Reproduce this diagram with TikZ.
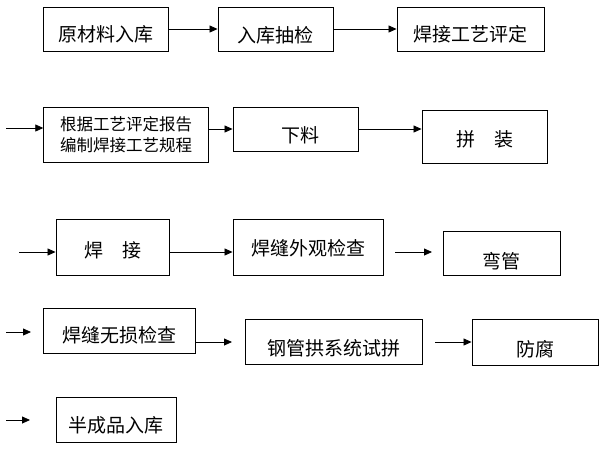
\documentclass[tikz,border=0pt]{standalone}
\usepackage{fontspec}
\setmainfont{Noto Sans CJK SC}
\usepackage{tikz}
\usetikzlibrary{arrows.meta,positioning}

\tikzset{
    box/.style={
        draw,
        line width=0.9pt,
        inner sep=1pt,
        font=\fontsize{19}{22}\selectfont
    },
    drop/.style={
        text height=#1,
        text depth=2pt
    },
    flow/.style={
        -{Triangle[length=8pt,width=7pt]},
        line width=0.8pt
    }
}

\begin{document}
\begin{tikzpicture}[x=1pt,y=-1pt]
                \useasboundingbox (0,0) rectangle (600,450);

                \node[
                    box,
                    minimum width=125pt,
                    minimum height=44pt,
                    drop=26.4pt
                    ] (rawin) at (106,29) {原材料入库};

                \node[
                    box,
                    minimum width=115pt,
                    minimum height=44pt,
                    drop=28.4pt
                    ] (sample) at (275.5,29) {入库抽检};

                \node[
                    box,
                    minimum width=147pt,
                    minimum height=44pt,
                    drop=26.4pt
                    ] (procq) at (470.5,29) {焊接工艺评定};

                \node[
                    box,
                    minimum width=164.5pt,
                    minimum height=55pt,
                    align=center,
                    font=\fontsize{16.5}{21}\selectfont
                    ] (wps) at (126,134.5) {根据工艺评定报告\\编制焊接工艺规程};

                \node[
                    box,
                    minimum width=125pt,
                    minimum height=44pt,
                    drop=28.4pt
                    ] (cutting) at (295.5,129) {\hspace{10pt}下料};

                \node[
                    box,
                    minimum width=125pt,
                    minimum height=53pt,
                    drop=21.4pt
                    ] (assembly) at (484.5,136.5) {拼\hspace{1em}装};

                \node[
                    box,
                    minimum width=113pt,
                    minimum height=56pt,
                    drop=22.4pt
                    ] (welding) at (112.5,247) {焊\hspace{1em}接};

                \node[
                    box,
                    minimum width=150pt,
                    minimum height=56pt,
                    drop=19.4pt
                    ] (visual) at (308,247) {焊缝外观检查};

                \node[
                    box,
                    minimum width=117pt,
                    minimum height=44pt,
                    drop=32.4pt
                    ] (bending) at (501.5,253) {弯管};

                \node[
                    box,
                    minimum width=152pt,
                    minimum height=45pt,
                    drop=25.4pt
                    ] (ndt) at (119,330.5) {焊缝无损检查};

                \node[
                    box,
                    minimum width=177pt,
                    minimum height=45pt,
                    drop=30.4pt
                    ] (trial) at (333.5,341.5) {钢管拱系统试拼};

                \node[
                    box,
                    minimum width=126pt,
                    minimum height=46pt,
                    drop=31.4pt
                    ] (coating) at (535,342) {防腐};

                \node[
                    box,
                    minimum width=120pt,
                    minimum height=45pt,
                    drop=28.4pt
                    ] (store) at (116,419.5) {半成品入库};

                \coordinate (in2) at (6,128);
                \coordinate (in3) at (19,252);
                \coordinate (in4) at (6,332);
                \coordinate (in4end) at (31,332);
                \coordinate (in5) at (6,420);
                \coordinate (in5end) at (30,420);
                \coordinate (gap3) at (395,252);
                \coordinate (gap3end) at (432,252);
                \coordinate (gap4) at (232,342);
                \coordinate (gap4b) at (435,342);

                \draw[flow] (rawin) to (sample);
                \draw[flow] (sample) to (procq);

                \draw[flow] (in2) to (in2 -| wps.west);
                \draw[flow] (wps.east |- cutting) to (cutting);
                \draw[flow] (cutting) to (cutting -| assembly.west);

                \draw[flow] (in3) to (in3 -| welding.west);
                \draw[flow] (welding.east |- in3) to (visual.west |- in3);
                \draw[flow] (gap3) to (gap3end);

                \draw[flow] (in4) to (in4end);
                \draw[flow] (ndt.east |- gap4) to (gap4);
                \draw[flow] (gap4b) to (gap4b -| coating.west);

                \draw[flow] (in5) to (in5end);

            \end{tikzpicture}
\end{document}
